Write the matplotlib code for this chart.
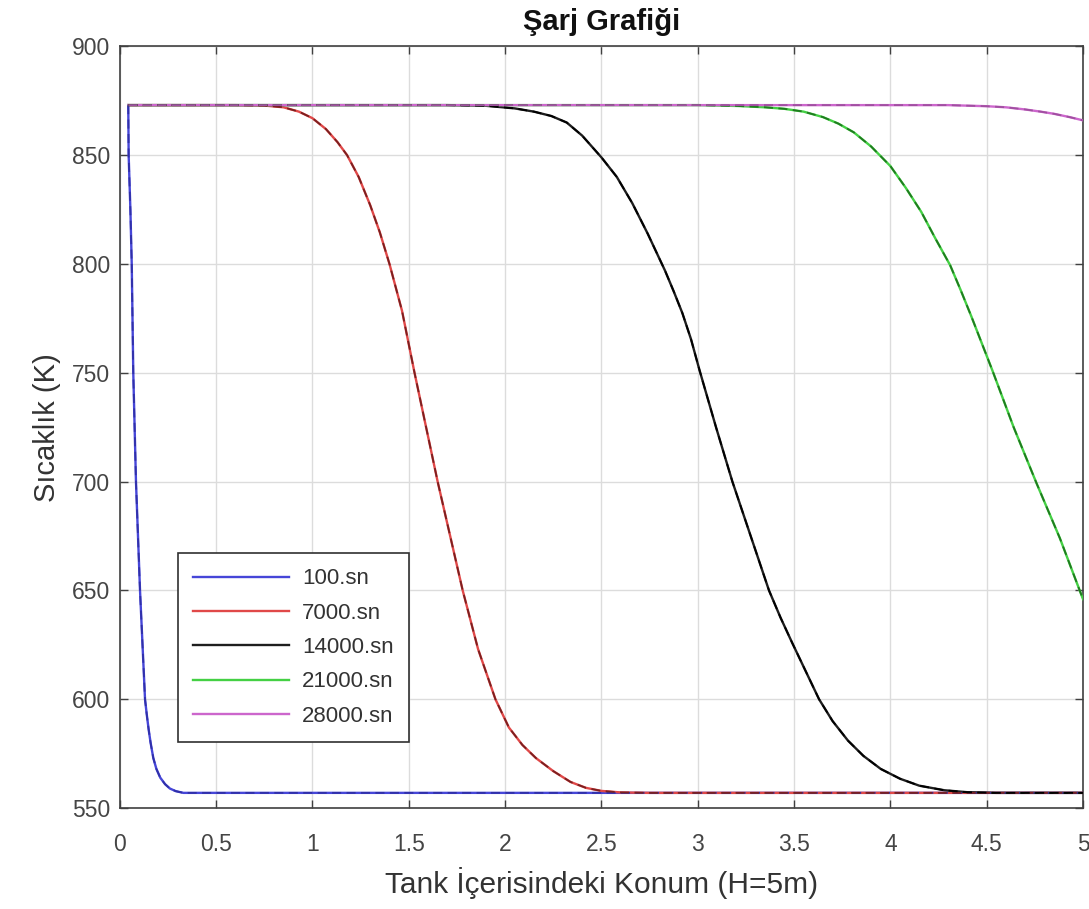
import matplotlib
matplotlib.use("Agg")
import matplotlib.pyplot as plt

plt.rcParams['font.family'] = ['Liberation Sans', 'DejaVu Sans']

# ---- data ----
labels = ["100.sn", "7000.sn", "14000.sn", "21000.sn", "28000.sn"]

x_100 = [0.044, 0.046, 0.055, 0.062, 0.070, 0.084, 0.105, 0.131, 0.140, 0.150, 0.160, 0.174, 0.190,
         0.210, 0.235, 0.260, 0.290, 0.330, 5.0]
y_100 = [873, 850, 825, 800, 750, 700, 650, 600, 593, 586, 580, 573, 568,
         564, 561, 559, 557.8, 557, 557]

x_7000 = [0.045, 0.6, 0.75, 0.85, 0.93, 1.00, 1.07, 1.13, 1.18, 1.24, 1.30, 1.35, 1.40, 1.465, 1.53,
          1.59, 1.65, 1.715, 1.78, 1.86, 1.95, 2.02, 2.09, 2.16, 2.25, 2.34, 2.42, 2.50, 2.60, 2.75, 5.0]
y_7000 = [873, 873, 872.8, 872, 870, 867, 862, 856, 850, 840, 827, 814.5, 800, 778.5, 750,
          725, 700, 675, 650, 623, 600, 587, 579, 573, 567, 562, 559.3, 557.9, 557.2, 557, 557]

x_14000 = [0.045, 1.7, 1.9, 2.05, 2.15, 2.24, 2.32, 2.40, 2.50, 2.58, 2.66, 2.74, 2.83, 2.875, 2.92,
           2.965, 3.01, 3.095, 3.18, 3.275, 3.37, 3.43, 3.49, 3.56, 3.63, 3.70, 3.78, 3.86, 3.95, 4.05,
           4.15, 4.28, 4.40, 4.55, 5.0]
y_14000 = [873, 873, 872.7, 871.5, 870, 868, 865, 859, 849, 840, 828, 814, 797, 787.5, 777.5,
           765.5, 751, 725, 700, 675, 650, 637.5, 626, 613, 600, 590, 581, 574, 568, 563.5,
           560.3, 558.2, 557.3, 557, 557]

x_21000 = [0.045, 3.0, 3.21, 3.35, 3.45, 3.55, 3.65, 3.73, 3.81, 3.90, 4.0, 4.08, 4.16, 4.235, 4.31,
           4.365, 4.42, 4.53, 4.64, 4.76, 4.88, 4.97, 5.0]
y_21000 = [873, 873, 872.6, 872, 871.3, 870, 867.5, 864.5, 860.5, 854, 845, 835, 824, 811.5, 799.5,
           788, 776, 751, 725, 699, 674, 653, 646]

x_28000 = [0.045, 4.3, 4.5, 4.6, 4.7, 4.78, 4.85, 4.93, 5.0]
y_28000 = [873, 873, 872.5, 872, 871, 870, 869, 867.5, 866]

xs = [x_100, x_7000, x_14000, x_21000, x_28000]
ys = [y_100, y_7000, y_14000, y_21000, y_28000]

x_ticks = [0, 0.5, 1, 1.5, 2, 2.5, 3, 3.5, 4, 4.5, 5]
x_ticklabels = ["0", "0.5", "1", "1.5", "2", "2.5", "3", "3.5", "4", "4.5", "5"]
y_ticks = [550, 600, 650, 700, 750, 800, 850, 900]

solid_colors = ["#4646d8", "#e04848", "#1e1e1e", "#44d044", "#cc66cc"]
dash_colors = ["#3030a8", "#7a2020", "#000000", "#207a20", "#a050a0"]

fig = plt.figure(figsize=(10.89, 9.09), dpi=100)
ax = fig.add_axes([0.110, 0.111, 0.8845, 0.838])

handles = []
for x, y, c, dc, lab in zip(xs, ys, solid_colors, dash_colors, labels):
    h, = ax.plot(x, y, color=c, lw=1.7, label=lab, zorder=3)
    ax.plot(x, y, color=dc, lw=1.3, ls=(0, (5, 3)), zorder=4)
    handles.append(h)

ax.set_xlim(0, 5)
ax.set_ylim(550, 900)
ax.set_xticks(x_ticks)
ax.set_xticklabels(x_ticklabels)
ax.set_yticks(y_ticks)
ax.grid(True, color="#dcdcdc", lw=1.0)
ax.set_axisbelow(True)
ax.tick_params(direction="in", top=True, right=True, length=6, width=1,
               labelsize=16.5, colors="#404040", labelcolor="#454545")
ax.tick_params(axis="x", pad=18)
ax.tick_params(axis="y", pad=7)
for s in ax.spines.values():
    s.set_color("#404040")
    s.set_linewidth(1.2)

ax.set_xlabel("Tank İçerisindeki Konum (H=5m)", fontsize=21.5, color="#333333", labelpad=8)
ax.set_ylabel("Sıcaklık (K)", fontsize=21, color="#333333", labelpad=8)
ax.set_title("Şarj Grafiği", fontsize=21, fontweight="bold", color="#111111", pad=12)

leg = ax.legend(handles=handles, loc="upper left", bbox_to_anchor=(0.06, 0.335),
                fontsize=16, frameon=True, fancybox=False, framealpha=1,
                edgecolor="#303030", handlelength=4.3, handletextpad=0.6,
                labelspacing=0.6, borderpad=0.7, borderaxespad=0)
leg.get_frame().set_linewidth(1.2)
for t in leg.get_texts():
    t.set_color("#333333")

fig.savefig("out.png", dpi=100)
